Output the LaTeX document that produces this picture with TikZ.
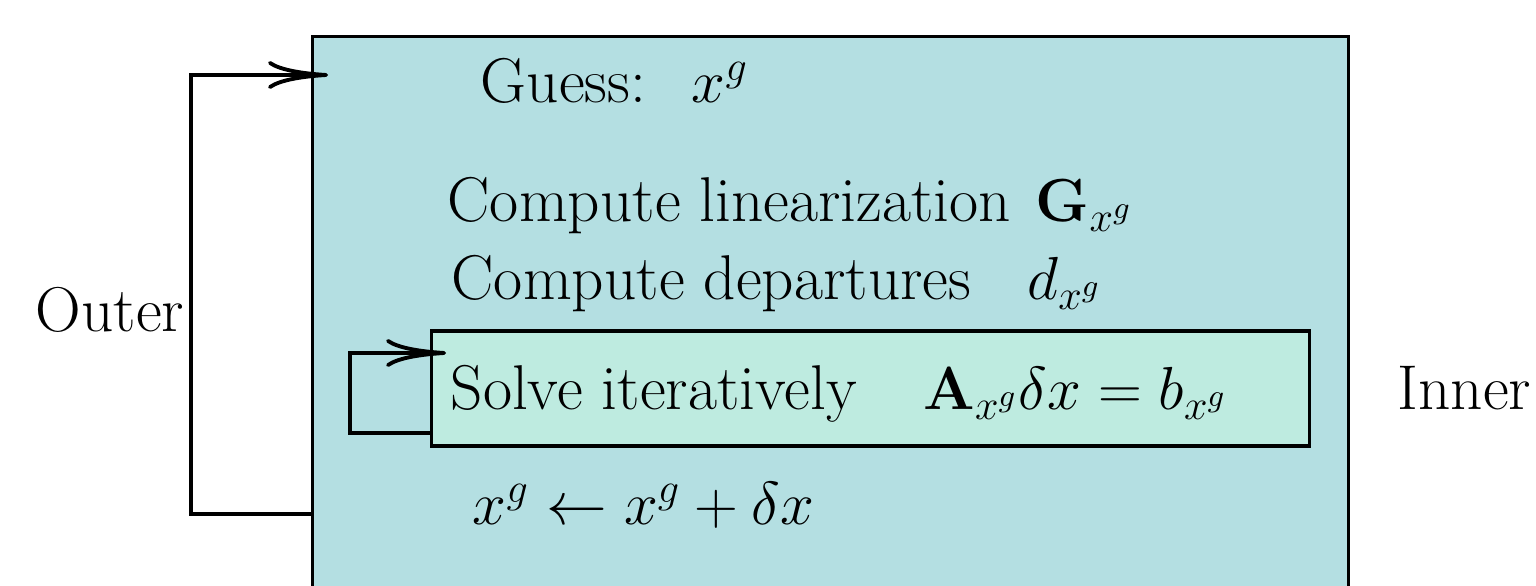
\documentclass[tikz,border=0pt]{standalone}
\usepackage{amsmath}
\usetikzlibrary{arrows.meta}
\definecolor{outerfill}{HTML}{B4DFE2}
\definecolor{innerfill}{HTML}{BEEBE0}

\tikzset{
  outerbox/.style={draw,fill=outerfill,line width=0.95pt,minimum width=10.35cm,minimum height=5.83cm,inner sep=0pt},
  innerbox/.style={draw,fill=innerfill,line width=0.95pt,minimum width=8.77cm,minimum height=1.15cm,inner sep=0pt},
  looparrow/.style={line width=0.95pt,-{To[length=6mm,width=2.8mm,line width=1.1pt]}},
  lbl/.style={anchor=base west,inner sep=0pt,font=\fontsize{18}{22}\selectfont}
}

\begin{document}
\begin{tikzpicture}[x=0.01cm,y=-0.01cm]
  \useasboundingbox (0,0) rectangle (1536,586);
  \clip (0,0) rectangle (1536,586);
  \node[outerbox] (outer) at (830.5,328.5) {};
  \node[innerbox] (inner) at (870.5,388.5) {};

  \node[lbl] (guess) at (480,103) {Guess:\hspace{13pt}$x^g$};
  \node[lbl] (lin) at (447,222) {Compute linearization\hspace{7pt}$\mathbf{G}_{x^g}$};
  \node[lbl] (dep) at (451,300) {Compute departures\hspace{16pt}$d_{x^g}$};
  \node[lbl] (solve) at (450,410) {Solve iteratively\hspace{19pt}$\mathbf{A}_{x^g}\delta x = b_{x^g}$};
  \node[lbl] (update) at (472,525) {$x^g \leftarrow x^g + \delta x$};
  \node[lbl] (outerlbl) at (35,332) {Outer};
  \node[lbl] (innerlbl) at (1397,410) {Inner};

  % outer and inner loops
  \draw[looparrow] (outer.west |- 0,514) -- ++(-120,0) |- ([xshift=0.17cm]outer.west |- 0,75);
  \draw[looparrow] (inner.west |- 0,433) -- ++(-80,0) |- ([xshift=0.16cm]inner.west |- 0,353);
\end{tikzpicture}
\end{document}
